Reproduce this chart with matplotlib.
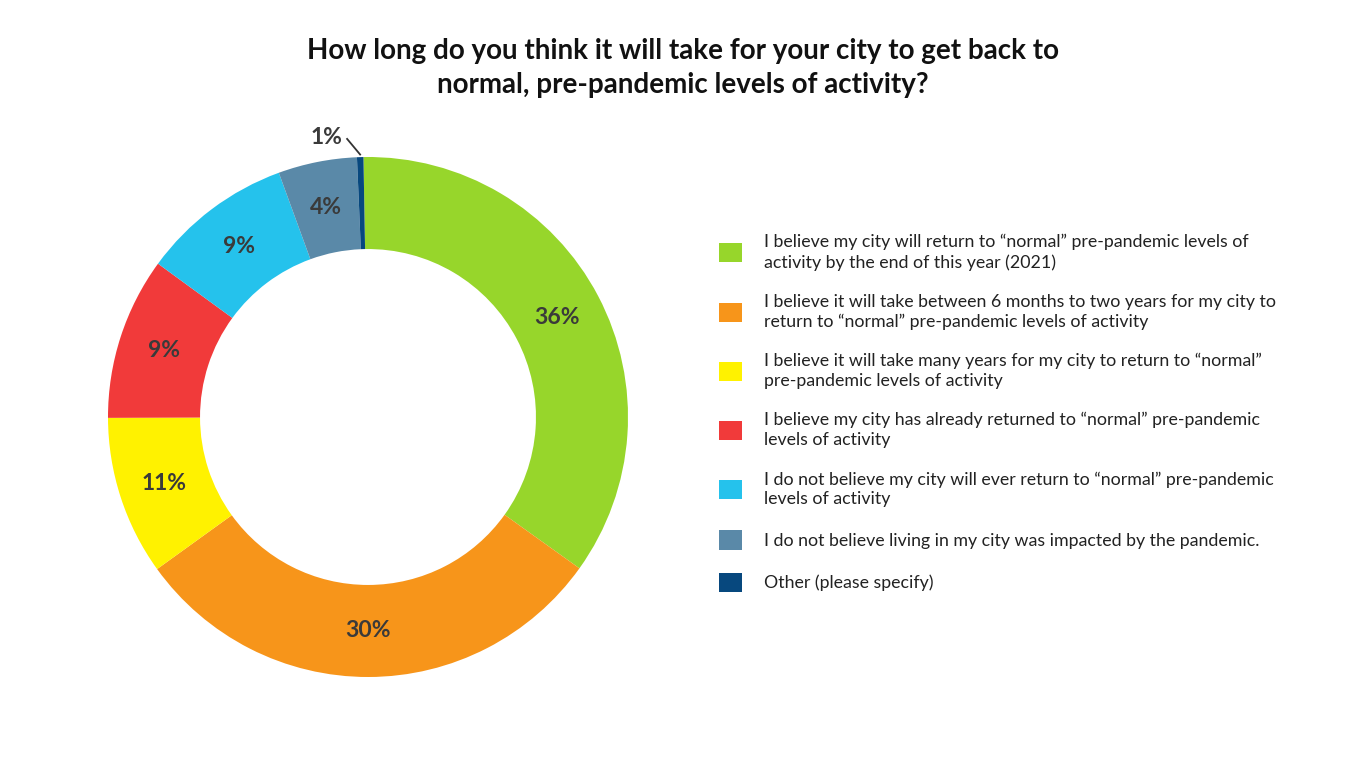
import matplotlib
matplotlib.use('Agg')
import matplotlib.pyplot as plt
import numpy as np

plt.rcParams['font.family'] = ['Lato', 'DejaVu Sans']

# shares, printed labels as shown on the chart
shares = [35.2, 30.2, 9.9, 10.1, 9.4, 4.9, 0.4]
pct_labels = ['36%', '30%', '11%', '9%', '9%', '4%', '1%']
categories = [
    'I believe my city will return to \u201cnormal\u201d pre-pandemic levels of\nactivity by the end of this year (2021)',
    'I believe it will take between 6 months to two years for my city to\nreturn to \u201cnormal\u201d pre-pandemic levels of activity',
    'I believe it will take many years for my city to return to \u201cnormal\u201d\npre-pandemic levels of activity',
    'I believe my city has already returned to \u201cnormal\u201d pre-pandemic\nlevels of activity',
    'I do not believe my city will ever return to \u201cnormal\u201d pre-pandemic\nlevels of activity',
    'I do not believe living in my city was impacted by the pandemic.',
    'Other (please specify)',
]
colors = ['#97D62B', '#F7951A', '#FFF200', '#F13A3A', '#25C2EC', '#5A89A8', '#07487E']

W, H = 1366, 768
fig = plt.figure(figsize=(W / 100, H / 100), dpi=100)

cx, cy, R = 368, 417, 260
ax = fig.add_axes([(cx - R) / W, (H - cy - R) / H, 2 * R / W, 2 * R / H])

ring = 0.354
wedges, _ = ax.pie(shares, colors=colors, startangle=91, counterclock=False,
                   radius=1, wedgeprops=dict(width=ring, linewidth=0))
ax.set_xlim(-1, 1)
ax.set_ylim(-1, 1)
ax.set_aspect('equal')
ax.axis('off')

mid_r = 1 - ring / 2
for w, lab in zip(wedges, pct_labels):
    ang = np.deg2rad((w.theta1 + w.theta2) / 2)
    if w.theta2 - w.theta1 < 3:
        # tiny slice: label outside with a leader line
        x0, y0 = 1.01 * np.cos(ang), 1.01 * np.sin(ang)
        x1, y1 = x0 - 0.05, y0 + 0.06
        ax.plot([x0, x1], [y0, y1], color='#333333', lw=1.3, clip_on=False)
        ax.text(x1 - 0.08, y1 + 0.005, lab, ha='center', va='center',
                fontsize=16.5, fontweight='bold', color='#3a3a3a')
        continue
    ax.text(mid_r * np.cos(ang), mid_r * np.sin(ang), lab, ha='center', va='center',
            fontsize=16.5, fontweight='bold', color='#3a3a3a')

fig.text(683 / W, 1 - 68 / H,
         'How long do you think it will take for your city to get back to\nnormal, pre-pandemic levels of activity?',
         ha='center', va='center', fontsize=20, fontweight='bold', color='#111111',
         linespacing=1.34)

leg = fig.legend(wedges, categories, loc='center left',
                 bbox_to_anchor=(719 / W, 1 - 413 / H), frameon=False,
                 fontsize=12.8, handlelength=1.3, handleheight=1.3,
                 handletextpad=1.24, labelspacing=1.3, borderpad=0,
                 borderaxespad=0)
for t in leg.get_texts():
    t.set_color('#222222')
    t.set_linespacing(1.28)

fig.savefig('out.png', dpi=100, facecolor='white')
